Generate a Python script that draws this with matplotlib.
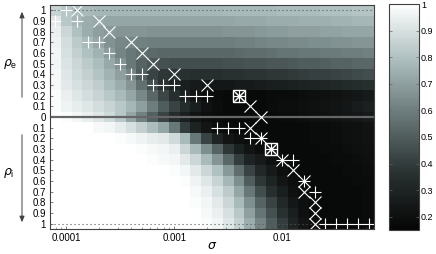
import numpy as np
import matplotlib
matplotlib.use("Agg")
import matplotlib.pyplot as plt
from matplotlib.colors import LinearSegmentedColormap

# ---------------- data ----------------
# sigma grid (30 columns, 10 per decade)
sigma = np.logspace(-4.1, -1.2, 30)
# signed rho: positive = rho_e (top), negative = rho_i (bottom)
rho = np.round(np.linspace(1.0, -1.0, 21), 2)

values_excit = [  # rho_e = 1.0 ... 0.1, then 0
    [0.86,0.82,0.79,0.78,0.77,0.77,0.77,0.77,0.77,0.77,0.77,0.77,0.77,0.77,0.77,0.77,0.78,0.78,0.78,0.78,0.78,0.79,0.79,0.79,0.79,0.80,0.80,0.80,0.81,0.81],
    [0.93,0.82,0.77,0.74,0.73,0.72,0.72,0.72,0.72,0.72,0.72,0.72,0.72,0.72,0.72,0.72,0.72,0.73,0.73,0.73,0.74,0.74,0.74,0.75,0.75,0.75,0.76,0.76,0.77,0.77],
    [0.95,0.87,0.80,0.74,0.70,0.68,0.67,0.67,0.67,0.66,0.66,0.66,0.66,0.66,0.66,0.66,0.67,0.67,0.67,0.68,0.69,0.69,0.70,0.70,0.70,0.71,0.71,0.72,0.72,0.72],
    [0.96,0.89,0.83,0.78,0.72,0.66,0.63,0.62,0.61,0.60,0.60,0.60,0.60,0.60,0.60,0.60,0.60,0.61,0.61,0.62,0.63,0.63,0.64,0.64,0.65,0.65,0.66,0.66,0.67,0.67],
    [0.97,0.90,0.85,0.80,0.76,0.69,0.62,0.58,0.56,0.54,0.53,0.53,0.53,0.53,0.53,0.53,0.53,0.54,0.55,0.55,0.56,0.57,0.57,0.58,0.58,0.59,0.59,0.60,0.60,0.61],
    [0.97,0.91,0.87,0.83,0.79,0.73,0.66,0.58,0.52,0.48,0.46,0.45,0.45,0.45,0.45,0.45,0.46,0.46,0.47,0.47,0.48,0.48,0.49,0.50,0.50,0.51,0.52,0.52,0.53,0.53],
    [0.98,0.92,0.88,0.85,0.81,0.76,0.70,0.62,0.50,0.42,0.38,0.37,0.36,0.35,0.35,0.35,0.36,0.36,0.37,0.37,0.38,0.38,0.39,0.40,0.41,0.41,0.42,0.43,0.44,0.45],
    [0.98,0.93,0.90,0.87,0.84,0.79,0.74,0.67,0.56,0.45,0.36,0.30,0.27,0.25,0.24,0.24,0.24,0.25,0.25,0.26,0.27,0.27,0.28,0.29,0.30,0.31,0.32,0.33,0.34,0.35],
    [0.99,0.95,0.92,0.89,0.86,0.82,0.78,0.72,0.63,0.53,0.43,0.35,0.28,0.22,0.19,0.18,0.17,0.17,0.17,0.17,0.18,0.18,0.18,0.19,0.20,0.21,0.22,0.23,0.24,0.25],
    [0.99,0.96,0.94,0.92,0.89,0.86,0.82,0.77,0.70,0.60,0.50,0.42,0.34,0.27,0.22,0.19,0.17,0.17,0.17,0.17,0.18,0.19,0.19,0.20,0.21,0.22,0.23,0.24,0.26,0.28],
    [1.00,0.99,0.97,0.95,0.92,0.88,0.82,0.72,0.61,0.51,0.42,0.34,0.27,0.22,0.19,0.18,0.17,0.17,0.17,0.17,0.17,0.18,0.18,0.19,0.20,0.21,0.22,0.23,0.24,0.25],
]
values_inhib = [  # rho_i = 0.1 ... 1.0
    [1.00,1.00,1.00,1.00,0.98,0.97,0.94,0.90,0.85,0.79,0.72,0.58,0.40,0.29,0.23,0.19,0.18,0.17,0.17,0.17,0.17,0.17,0.17,0.17,0.18,0.18,0.19,0.20,0.21,0.22],
    [1.00,1.00,1.00,1.00,1.00,1.00,0.99,0.98,0.96,0.94,0.93,0.88,0.78,0.58,0.42,0.30,0.23,0.20,0.18,0.17,0.17,0.17,0.17,0.17,0.18,0.18,0.19,0.20,0.21,0.22],
    [1.00,1.00,1.00,1.00,1.00,1.00,1.00,1.00,0.99,0.98,0.97,0.95,0.87,0.78,0.65,0.52,0.38,0.28,0.23,0.19,0.17,0.17,0.17,0.17,0.17,0.18,0.18,0.19,0.20,0.21],
    [1.00,1.00,1.00,1.00,1.00,1.00,1.00,1.00,1.00,0.99,0.98,0.97,0.93,0.87,0.78,0.67,0.53,0.40,0.30,0.25,0.21,0.18,0.17,0.17,0.17,0.17,0.18,0.18,0.19,0.20],
    [1.00,1.00,1.00,1.00,1.00,1.00,1.00,1.00,1.00,1.00,1.00,0.99,0.97,0.93,0.87,0.80,0.68,0.55,0.42,0.32,0.25,0.20,0.18,0.17,0.17,0.17,0.17,0.18,0.18,0.19],
    [1.00,1.00,1.00,1.00,1.00,1.00,1.00,1.00,1.00,1.00,1.00,1.00,0.99,0.96,0.92,0.86,0.77,0.65,0.50,0.38,0.30,0.23,0.19,0.17,0.17,0.17,0.17,0.17,0.18,0.18],
    [1.00,1.00,1.00,1.00,1.00,1.00,1.00,1.00,1.00,1.00,1.00,1.00,1.00,0.98,0.95,0.90,0.83,0.72,0.58,0.45,0.35,0.27,0.21,0.18,0.17,0.17,0.17,0.17,0.17,0.18],
    [1.00,1.00,1.00,1.00,1.00,1.00,1.00,1.00,1.00,1.00,1.00,1.00,1.00,0.99,0.97,0.93,0.87,0.78,0.65,0.52,0.42,0.32,0.24,0.20,0.18,0.17,0.17,0.17,0.17,0.18],
    [1.00,1.00,1.00,1.00,1.00,1.00,1.00,1.00,1.00,1.00,1.00,1.00,1.00,1.00,0.98,0.95,0.90,0.82,0.70,0.57,0.46,0.36,0.27,0.21,0.18,0.17,0.17,0.17,0.17,0.18],
    [1.00,1.00,1.00,1.00,1.00,1.00,1.00,1.00,1.00,1.00,1.00,1.00,1.00,1.00,0.99,0.97,0.92,0.85,0.74,0.62,0.50,0.40,0.30,0.23,0.19,0.17,0.17,0.17,0.17,0.18],
]

# marker positions (column index into sigma, signed rho)
plus_cols = [1, 0, 2, 3, 4, 5, 6, 7, 8, 9, 10, 11, 12, 13, 14, 17,
             15, 16, 17, 18, 19, 20, 21, 22, 23, 24, 25, 26, 27, 28, 29]
plus_rho = [1.0, 0.9, 0.9, 0.7, 0.7, 0.6, 0.5, 0.4, 0.4, 0.3, 0.3, 0.3, 0.2, 0.2, 0.2, 0.2,
            -0.1, -0.1, -0.1, -0.2, -0.2, -0.3, -0.4, -0.4, -0.6, -0.7, -1.0, -1.0, -1.0, -1.0, -1.0]
x_cols = [2, 4, 5, 7, 8, 9, 11, 14, 17, 18, 19, 18, 19, 20, 21, 22, 23, 23, 24, 24, 24]
x_rho = [1.0, 0.9, 0.8, 0.7, 0.6, 0.5, 0.4, 0.3, 0.2, 0.1, 0.0, -0.1, -0.2, -0.3, -0.4,
         -0.5, -0.6, -0.7, -0.8, -0.9, -1.0]
box_cols = [17, 20]
box_rho = [0.2, -0.3]

ytick_labels = ["1", "0.9", "0.8", "0.7", "0.6", "0.5", "0.4", "0.3", "0.2", "0.1", "0",
                "0.1", "0.2", "0.3", "0.4", "0.5", "0.6", "0.7", "0.8", "0.9", "1"]
xtick_vals = [1e-4, 1e-3, 1e-2]
xtick_labels = ["0.0001", "0.001", "0.01"]
cbar_ticks = [0.2, 0.3, 0.4, 0.5, 0.6, 0.7, 0.8, 0.9, 1.0]
cbar_labels = ["0.2", "0.3", "0.4", "0.5", "0.6", "0.7", "0.8", "0.9", "1"]

# ---------------- drawing ----------------
plt.rcParams['font.family'] = ['Liberation Sans', 'DejaVu Sans']
plt.rcParams['mathtext.fontset'] = 'dejavusans'

cmap = LinearSegmentedColormap.from_list('mbone', [
    (0.0, (0.02, 0.02, 0.02)),
    (0.25, (0.16, 0.19, 0.19)),
    (0.5, (0.40, 0.46, 0.46)),
    (0.75, (0.67, 0.74, 0.74)),
    (1.0, (1.0, 1.0, 1.0))])

Z = np.array(values_excit + values_inhib)

ls = np.log10(sigma)
ledges = np.concatenate([[ls[0] - (ls[1] - ls[0]) / 2], (ls[:-1] + ls[1:]) / 2,
                         [ls[-1] + (ls[-1] - ls[-2]) / 2]])
sig_edges = 10 ** ledges
rho_edges = np.concatenate([[rho[0] + 0.05], (rho[:-1] + rho[1:]) / 2, [rho[-1] - 0.05]])

fig = plt.figure(figsize=(4.36, 2.54), dpi=100)
ax = fig.add_axes([50/436, 25/254, 324/436, 224/254])
mesh = ax.pcolormesh(sig_edges, rho_edges, Z, cmap=cmap, vmin=0.15, vmax=1.0, shading='flat')
ax.set_xscale('log')
ax.set_xlim(sig_edges[0], sig_edges[-1])
ax.set_ylim(rho_edges[-1], rho_edges[0])

# reference lines
ax.axhline(1.0, color='0.35', lw=0.8, ls=(0, (1, 2.6)))
ax.axhline(-1.0, color='0.35', lw=0.8, ls=(0, (1, 2.6)))
ax.axhline(0.0, color='0.4', lw=1.6)

# markers
ax.plot(sigma[plus_cols], plus_rho, ls='none', marker='+', ms=8, mew=0.8, color='white')
ax.plot(sigma[x_cols], x_rho, ls='none', marker='x', ms=9, mew=0.8, color='white')
ax.plot(sigma[box_cols], box_rho, ls='none', marker='s', ms=8, mew=1.0, mfc='none', mec='white')
ax.plot(sigma[box_cols], box_rho, ls='none', marker='x', ms=6, mew=0.8, color='white')
ax.plot(sigma[box_cols], box_rho, ls='none', marker='+', ms=7, mew=0.8, color='white')

ax.set_yticks(rho)
ax.set_yticklabels(ytick_labels)
ax.set_xticks(xtick_vals)
ax.set_xticklabels(xtick_labels)
ax.tick_params(axis='both', which='major', direction='in', length=2, width=0.5,
               color='0.3', labelsize=7, pad=3)
ax.tick_params(axis='x', which='minor', direction='in', length=1.2, width=0.4, color='0.3')
ax.tick_params(axis='y', which='minor', left=False)
for s in ax.spines.values():
    s.set_color('0.25')
    s.set_linewidth(0.8)

# x label
fig.text(212/436, 1 - 246/254, r'$\sigma$', fontsize=9, ha='center', va='center')

# side labels with arrows
fig.text(10/436, 1 - 64/254, r'$\rho_\mathregular{e}$', fontsize=9, ha='center', va='center')
fig.text(9/436, 1 - 173/254, r'$\rho_\mathregular{i}$', fontsize=9, ha='center', va='center')
ax.annotate('', xy=(22, 254 - 9), xycoords='figure pixels',
            xytext=(22, 254 - 100), textcoords='figure pixels',
            arrowprops=dict(arrowstyle='-|>,head_length=0.35,head_width=0.15', color='0.25', lw=0.7))
ax.annotate('', xy=(22, 254 - 225), xycoords='figure pixels',
            xytext=(22, 254 - 132), textcoords='figure pixels',
            arrowprops=dict(arrowstyle='-|>,head_length=0.35,head_width=0.15', color='0.25', lw=0.7))

# colorbar
cax = fig.add_axes([389/436, 24/254, 30/436, 226/254])
cb = fig.colorbar(mesh, cax=cax)
cb.set_ticks(cbar_ticks)
cb.set_ticklabels(cbar_labels)
cax.tick_params(direction='in', length=2, width=0.5, color='0.4', labelsize=6.5, pad=1.5,
                left=True, right=True)
cb.outline.set_edgecolor('0.25')
cb.outline.set_linewidth(0.8)

fig.savefig('out.png', dpi=100)
